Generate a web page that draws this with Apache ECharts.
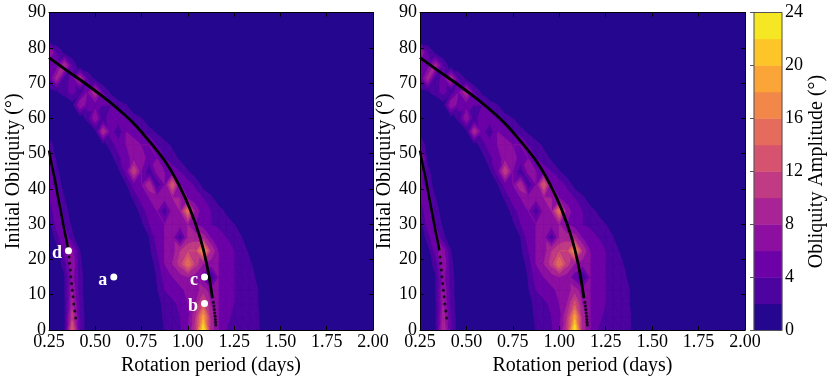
<!DOCTYPE html>
<html>
<head>
<meta charset="utf-8">
<script src="https://cdn.jsdelivr.net/npm/echarts@6/dist/echarts.min.js"></script>
<style>
  html, body { margin: 0; padding: 0; background: #fff; }
  #chart { width: 830px; height: 379px; }
</style>
</head>
<body>
<div id="chart"></div>
<script>
// grid nodes: rotation period in hours (shown in days) and initial obliquity in degrees
var periodHours = [6,7,8,9,10,11,12,13,14,15,16,17,18,19,20,21,22,23,24,25,26,27,28,29,30,31,32,33,34,35,36,37,38,39,40,41,42,43,44,45,46,47,48];
var obliquity = [0,3.75,7.5,11.25,15,18.75,22.5,26.25,30,33.75,37.5,41.25,45,48.75,52.5,56.25,60,63.75,67.5,71.25,75,78.75,82.5,86.25,90];

// obliquity amplitude (deg), one row per obliquity value, columns = periodHours
var ampLeft = [
  [0,0,1.5,14,4,0.5, 0,0,0,0,0,0, 0,0,0.5,2.2,3,3.8, 5.5,11,24,9,6,4, 3.5,3,3,2.5,0.5,0, 0,0,0,0,0,0, 0,0,0,0,0,0,0],
  [0,0,1.5,11,4,0.5, 0,0,0,0,0,0, 0,0,0.8,2.5,3.2,4, 5.5,10,19,9,6,4.5, 3.5,3,3,2.5,0.5,0, 0,0,0,0,0,0, 0,0,0,0,0,0,0],
  [0,0,1.5,9,3.5,0.5, 0,0,0,0,0,0, 0,0,1,2.8,3.5,4.5, 6,8,13,8,6,5, 4,3,2.8,2.2,0.5,0, 0,0,0,0,0,0, 0,0,0,0,0,0,0],
  [0,0,1.8,8,3,0.5, 0,0,0,0,0,0, 0,0,1.8,4,5,5.5, 6.5,7,9,7,6,5, 4,3.5,3,2.2,0.5,0, 0,0,0,0,0,0, 0,0,0,0,0,0,0],
  [0,0,1.8,7,3,0.5, 0,0,0,0,0,0, 0,0.5,2.2,5,6,7, 8,7,5,1.5,6,5, 4,3.5,3,1.5,0,0, 0,0,0,0,0,0, 0,0,0,0,0,0,0],
  [0,0.5,3,8,2.5,0.5, 0,0,0,0,0,0, 0,0.5,3,6,8,11, 16,11,8,7,6,5, 4,3.5,2.5,0.5,0,0, 0,0,0,0,0,0, 0,0,0,0,0,0,0],
  [0,1,5,7,2,0, 0,0,0,0,0,0, 0,1.5,4,6,7,10, 12,12,19,10,6,5, 4,3,1.5,0,0,0, 0,0,0,0,0,0, 0,0,0,0,0,0,0],
  [0,3,6,2.5,0.5,0, 0,0,0,0,0,0, 0.5,2,5,6,7,2.5, 8,9,9,6,5,4, 3,2,0.5,0,0,0, 0,0,0,0,0,0, 0,0,0,0,0,0,0],
  [1,5,4,1.5,0,0, 0,0,0,0,0,0, 1.5,4,5,6,7,7, 8,6,5,4,3.5,3, 2,0.5,0,0,0,0, 0,0,0,0,0,0, 0,0,0,0,0,0,0],
  [2.2,6,2.8,1,0,0, 0,0,0,0,0,0.5, 3,5,6,2.5,7,8, 16,7,5,4,3,1.5, 0,0,0,0,0,0, 0,0,0,0,0,0, 0,0,0,0,0,0,0],
  [4,5,2,0,0,0, 0,0,0,0,0.5,2.5, 5,6,7,7,8,8, 6,5,4,2.5,0.5,0, 0,0,0,0,0,0, 0,0,0,0,0,0, 0,0,0,0,0,0,0],
  [5,3,1.2,0,0,0, 0,0,0,0,1.8,5, 6,10,2.5,6,14,6, 5,3.5,1,0,0,0, 0,0,0,0,0,0, 0,0,0,0,0,0, 0,0,0,0,0,0,0],
  [5,2.5,0.5,0,0,0, 0,0,0,1.5,5,12, 6,2.5,7,6,5,4, 2.2,0.5,0,0,0,0, 0,0,0,0,0,0, 0,0,0,0,0,0, 0,0,0,0,0,0,0],
  [6,1.5,0,0,0,0, 0,0,1,3.5,5,7, 7,5,6,4,3,1.5, 0,0,0,0,0,0, 0,0,0,0,0,0, 0,0,0,0,0,0, 0,0,0,0,0,0,0],
  [3,1,0,0,0,0, 0,1,3,5,6,7, 6,6,4,3,1.5,0, 0,0,0,0,0,0, 0,0,0,0,0,0, 0,0,0,0,0,0, 0,0,0,0,0,0,0],
  [1,0,0,0,0,0, 1.5,10,5,2.5,6,5, 4,3,1.5,0,0,0, 0,0,0,0,0,0, 0,0,0,0,0,0, 0,0,0,0,0,0, 0,0,0,0,0,0,0],
  [0,0,0,0,0.5,2.8, 8,2.5,6,5,4,3, 2.1,0,0,0,0,0, 0,0,0,0,0,0, 0,0,0,0,0,0, 0,0,0,0,0,0, 0,0,0,0,0,0,0],
  [0,0,0,1,8,5, 5,4,4,3,2.1,0, 0,0,0,0,0,0, 0,0,0,0,0,0, 0,0,0,0,0,0, 0,0,0,0,0,0, 0,0,0,0,0,0,0],
  [1.3,1.8,3,5,2.5,6, 10,4,1.5,0,0,0, 0,0,0,0,0,0, 0,0,0,0,0,0, 0,0,0,0,0,0, 0,0,0,0,0,0, 0,0,0,0,0,0,0],
  [4,9,2.5,5,10,4, 1.5,0,0,0,0,0, 0,0,0,0,0,0, 0,0,0,0,0,0, 0,0,0,0,0,0, 0,0,0,0,0,0, 0,0,0,0,0,0,0],
  [4,5,10,4,0.5,0, 0,0,0,0,0,0, 0,0,0,0,0,0, 0,0,0,0,0,0, 0,0,0,0,0,0, 0,0,0,0,0,0, 0,0,0,0,0,0,0],
  [9,4,1.5,0,0,0, 0,0,0,0,0,0, 0,0,0,0,0,0, 0,0,0,0,0,0, 0,0,0,0,0,0, 0,0,0,0,0,0, 0,0,0,0,0,0,0],
  [0,0,0,0,0,0, 0,0,0,0,0,0, 0,0,0,0,0,0, 0,0,0,0,0,0, 0,0,0,0,0,0, 0,0,0,0,0,0, 0,0,0,0,0,0,0],
  [0,0,0,0,0,0, 0,0,0,0,0,0, 0,0,0,0,0,0, 0,0,0,0,0,0, 0,0,0,0,0,0, 0,0,0,0,0,0, 0,0,0,0,0,0,0],
  [0,0,0,0,0,0, 0,0,0,0,0,0, 0,0,0,0,0,0, 0,0,0,0,0,0, 0,0,0,0,0,0, 0,0,0,0,0,0, 0,0,0,0,0,0,0]
];

var ampRight = [
  [0,0,1.5,10,4,0.5, 0,0,0,0,0,0, 0,0,0.5,2.2,3,3.8, 5.5,11,24,9,6,4, 3.5,3,3,2.5,0.5,0, 0,0,0,0,0,0, 0,0,0,0,0,0,0],
  [0,0,1.5,9,4,0.5, 0,0,0,0,0,0, 0,0,0.8,2.5,3.2,4, 5.5,10,19,9,6,4.5, 3.5,3,3,2.5,0.5,0, 0,0,0,0,0,0, 0,0,0,0,0,0,0],
  [0,0,1.5,8,3.5,0.5, 0,0,0,0,0,0, 0,0,1,2.8,3.5,4.5, 6,8,13,8,6,5, 4,3,2.8,2.2,0.5,0, 0,0,0,0,0,0, 0,0,0,0,0,0,0],
  [0,0,1.8,8,3,0.5, 0,0,0,0,0,0, 0,0,1.8,4,5,5.5, 6.5,7,9,7,6,5, 4,3.5,3,2.2,0.5,0, 0,0,0,0,0,0, 0,0,0,0,0,0,0],
  [0,0,1.8,7,3,0.5, 0,0,0,0,0,0, 0,0.5,2.2,5,6,7, 8,7,5,1.5,6,5, 4,3.5,3,1.5,0,0, 0,0,0,0,0,0, 0,0,0,0,0,0,0],
  [0,0.5,3,8,2.5,0.5, 0,0,0,0,0,0, 0,0.5,3,6,8,11, 16,11,8,7,6,5, 4,3.5,2.5,0.5,0,0, 0,0,0,0,0,0, 0,0,0,0,0,0,0],
  [0,1,5,7,2,0, 0,0,0,0,0,0, 0,1.5,4,6,7,10, 12,12,19,10,6,5, 4,3,1.5,0,0,0, 0,0,0,0,0,0, 0,0,0,0,0,0,0],
  [0,3,6,2.5,0.5,0, 0,0,0,0,0,0, 0.5,2,5,6,7,2.5, 8,9,9,6,5,4, 3,2,0.5,0,0,0, 0,0,0,0,0,0, 0,0,0,0,0,0,0],
  [1,5,4,1.5,0,0, 0,0,0,0,0,0, 1.5,4,5,6,7,7, 8,6,5,4,3.5,3, 2,0.5,0,0,0,0, 0,0,0,0,0,0, 0,0,0,0,0,0,0],
  [2.2,6,2.8,1,0,0, 0,0,0,0,0,0.5, 3,5,6,2.5,7,8, 16,7,5,4,3,1.5, 0,0,0,0,0,0, 0,0,0,0,0,0, 0,0,0,0,0,0,0],
  [4,5,2,0,0,0, 0,0,0,0,0.5,2.5, 5,6,7,7,8,8, 6,5,4,2.5,0.5,0, 0,0,0,0,0,0, 0,0,0,0,0,0, 0,0,0,0,0,0,0],
  [5,3,1.2,0,0,0, 0,0,0,0,1.8,5, 6,10,2.5,6,14,6, 5,3.5,1,0,0,0, 0,0,0,0,0,0, 0,0,0,0,0,0, 0,0,0,0,0,0,0],
  [6,2.5,0.5,0,0,0, 0,0,0,1.5,5,12, 6,2.5,7,6,5,4, 2.2,0.5,0,0,0,0, 0,0,0,0,0,0, 0,0,0,0,0,0, 0,0,0,0,0,0,0],
  [10,1.5,0,0,0,0, 0,0,1,3.5,5,7, 7,5,6,4,3,1.5, 0,0,0,0,0,0, 0,0,0,0,0,0, 0,0,0,0,0,0, 0,0,0,0,0,0,0],
  [4,1,0,0,0,0, 0,1,3,5,6,7, 6,6,4,3,1.5,0, 0,0,0,0,0,0, 0,0,0,0,0,0, 0,0,0,0,0,0, 0,0,0,0,0,0,0],
  [1,0,0,0,0,0, 1.5,10,5,2.5,6,5, 4,3,1.5,0,0,0, 0,0,0,0,0,0, 0,0,0,0,0,0, 0,0,0,0,0,0, 0,0,0,0,0,0,0],
  [0,0,0,0,0.5,2.8, 8,2.5,6,5,4,3, 2.1,0,0,0,0,0, 0,0,0,0,0,0, 0,0,0,0,0,0, 0,0,0,0,0,0, 0,0,0,0,0,0,0],
  [0,0,0,1,8,5, 5,4,4,3,2.1,0, 0,0,0,0,0,0, 0,0,0,0,0,0, 0,0,0,0,0,0, 0,0,0,0,0,0, 0,0,0,0,0,0,0],
  [1.3,1.8,3,5,2.5,6, 10,4,1.5,0,0,0, 0,0,0,0,0,0, 0,0,0,0,0,0, 0,0,0,0,0,0, 0,0,0,0,0,0, 0,0,0,0,0,0,0],
  [4,9,2.5,5,10,4, 1.5,0,0,0,0,0, 0,0,0,0,0,0, 0,0,0,0,0,0, 0,0,0,0,0,0, 0,0,0,0,0,0, 0,0,0,0,0,0,0],
  [4,5,9,4,0.5,0, 0,0,0,0,0,0, 0,0,0,0,0,0, 0,0,0,0,0,0, 0,0,0,0,0,0, 0,0,0,0,0,0, 0,0,0,0,0,0,0],
  [9,4,1.5,0,0,0, 0,0,0,0,0,0, 0,0,0,0,0,0, 0,0,0,0,0,0, 0,0,0,0,0,0, 0,0,0,0,0,0, 0,0,0,0,0,0,0],
  [0,0,0,0,0,0, 0,0,0,0,0,0, 0,0,0,0,0,0, 0,0,0,0,0,0, 0,0,0,0,0,0, 0,0,0,0,0,0, 0,0,0,0,0,0,0],
  [0,0,0,0,0,0, 0,0,0,0,0,0, 0,0,0,0,0,0, 0,0,0,0,0,0, 0,0,0,0,0,0, 0,0,0,0,0,0, 0,0,0,0,0,0,0],
  [0,0,0,0,0,0, 0,0,0,0,0,0, 0,0,0,0,0,0, 0,0,0,0,0,0, 0,0,0,0,0,0, 0,0,0,0,0,0, 0,0,0,0,0,0,0]
];

// resonance curves (solid part, then the dotted tail)
var upperCurveX = [0.25, 0.345, 0.435, 0.525, 0.615, 0.705, 0.795, 0.885, 0.957, 1.011, 1.065, 1.101, 1.133];
var upperCurveY = [77.2, 73.6, 70.3, 66.8, 63.0, 58.7, 53.3, 47.2, 40.6, 34.4, 26.4, 18.9, 9.0];
var upperDotsX = [1.138, 1.141, 1.143, 1.145, 1.147, 1.149, 1.150, 1.151];
var upperDotsY = [7.9, 6.8, 5.8, 4.8, 3.9, 3.0, 2.2, 1.4];
var lowerCurveX = [0.25, 0.266, 0.282, 0.296, 0.309, 0.323, 0.336, 0.346, 0.354];
var lowerCurveY = [50.9, 46.5, 42.5, 38.5, 34.9, 31.0, 27.4, 25.0, 22.6];
var lowerDotsX = [0.358, 0.361, 0.365, 0.368, 0.372, 0.376, 0.380, 0.384, 0.389, 0.394];
var lowerDotsY = [20.7, 18.9, 17.0, 15.1, 13.2, 11.3, 9.4, 7.4, 5.4, 3.4];

// marked cases (left panel)
var caseNames = ['a', 'b', 'c', 'd'];
var caseX = [0.6, 1.09, 1.09, 0.355];
var caseY = [15, 7.5, 15, 22.5];

// contour levels and plasma colours of the filled bands
var levels = [0,2,4,6,8,10,12,14,16,18,20,22,24];
var bandColors = ['#24068f','#4c03a0','#6c01a7','#8c0fa2','#a82395','#c03b83','#d5536e','#e56c5c','#f2874a','#fba437','#fdc528','#f5e723'];

var serif = "'Liberation Serif', 'DejaVu Serif', serif";

function bandIndex(v) {
  for (var k = levels.length - 2; k >= 0; k--) {
    if (v >= levels[k]) return k;
  }
  return 0;
}

function buildCells(rows) {
  var cells = [];
  for (var j = 0; j < obliquity.length - 1; j++) {
    for (var i = 0; i < periodHours.length - 1; i++) {
      var v00 = rows[j][i], v10 = rows[j][i + 1], v01 = rows[j + 1][i], v11 = rows[j + 1][i + 1];
      if (Math.max(v00, v10, v01, v11) < levels[1]) continue;
      cells.push([periodHours[i] / 24, obliquity[j], periodHours[i + 1] / 24, obliquity[j + 1], v00, v10, v01, v11]);
    }
  }
  return cells;
}

// keep the part of a polygon above (or below) a level, values linear along edges
function clipPoly(pts, level, above) {
  var out = [];
  for (var i = 0; i < pts.length; i++) {
    var a = pts[i], b = pts[(i + 1) % pts.length];
    var ina = above ? a[2] >= level : a[2] < level;
    var inb = above ? b[2] >= level : b[2] < level;
    if (ina) out.push(a);
    if (ina !== inb) {
      var t = (level - a[2]) / (b[2] - a[2]);
      out.push([a[0] + t * (b[0] - a[0]), a[1] + t * (b[1] - a[1]), level]);
    }
  }
  return out;
}

function renderContourCell(params, api) {
  var p0 = api.coord([api.value(0), api.value(1)]);
  var p1 = api.coord([api.value(2), api.value(3)]);
  var v00 = api.value(4), v10 = api.value(5), v01 = api.value(6), v11 = api.value(7);
  var a = [p0[0], p0[1], v00], b = [p1[0], p0[1], v10], c = [p1[0], p1[1], v11], d = [p0[0], p1[1], v01];
  // split the cell along the diagonal that avoids its most extreme corner
  var mean = (v00 + v10 + v01 + v11) / 4;
  var devAC = Math.max(Math.abs(v00 - mean), Math.abs(v11 - mean));
  var devBD = Math.max(Math.abs(v10 - mean), Math.abs(v01 - mean));
  var tris = devAC >= devBD ? [[a, b, d], [b, c, d]] : [[a, b, c], [a, c, d]];
  var children = [];
  tris.forEach(function (tri) {
    var lo = Math.min(tri[0][2], tri[1][2], tri[2][2]);
    var hi = Math.max(tri[0][2], tri[1][2], tri[2][2]);
    for (var k = Math.max(1, bandIndex(lo)); k <= bandIndex(hi); k++) {
      var poly = clipPoly(tri, levels[k], true);
      if (k < levels.length - 2) poly = clipPoly(poly, levels[k + 1], false);
      if (poly.length < 3) continue;
      children.push({
        type: 'polygon',
        shape: { points: poly.map(function (p) { return [p[0], p[1]]; }) },
        style: { fill: bandColors[k], stroke: bandColors[k], lineWidth: 0.6 }
      });
    }
  });
  return { type: 'group', children: children };
}

function zip(xs, ys) {
  return xs.map(function (x, i) { return [x, ys[i]]; });
}

function periodAxis(gridIndex, position, withLabels) {
  return {
    type: 'value', gridIndex: gridIndex, position: position,
    min: 0.25, max: 2.0, interval: 0.25, z: 5,
    axisLine: { show: true, onZero: false, lineStyle: { color: '#000', width: 1 } },
    axisTick: { show: true, inside: true, length: 4, lineStyle: { color: '#000' } },
    axisLabel: {
      show: withLabels, color: '#000', fontFamily: serif, fontSize: 18, margin: 3,
      showMinLabel: true, showMaxLabel: true,
      formatter: function (v) { return v.toFixed(2); }
    },
    splitLine: { show: false },
    name: withLabels ? 'Rotation period (days)' : '',
    nameLocation: 'middle', nameGap: 11,
    nameTextStyle: { color: '#000', fontFamily: serif, fontSize: 20 }
  };
}

function obliquityAxis(gridIndex, position, withLabels) {
  return {
    type: 'value', gridIndex: gridIndex, position: position,
    min: 0, max: 90, interval: 10, z: 5,
    axisLine: { show: true, onZero: false, lineStyle: { color: '#000', width: 1 } },
    axisTick: { show: true, inside: true, length: 4, lineStyle: { color: '#000' } },
    axisLabel: {
      show: withLabels, color: '#000', fontFamily: serif, fontSize: 18, margin: 3,
      showMinLabel: true, showMaxLabel: true
    },
    splitLine: { show: false },
    name: withLabels ? 'Initial Obliquity (°)' : '',
    nameLocation: 'middle', nameGap: 24, nameRotate: 90,
    nameTextStyle: { color: '#000', fontFamily: serif, fontSize: 20 }
  };
}

function panelSeries(rows, xi, yi) {
  return [
    {
      type: 'custom', xAxisIndex: xi, yAxisIndex: yi, clip: true, silent: true,
      renderItem: renderContourCell,
      encode: { x: [0, 2], y: [1, 3] },
      data: buildCells(rows), z: 1
    },
    {
      type: 'line', xAxisIndex: xi, yAxisIndex: yi, data: zip(upperCurveX, upperCurveY),
      smooth: 0.4, showSymbol: false, symbol: 'none', silent: true, z: 3,
      lineStyle: { color: '#000', width: 2.8 }
    },
    {
      type: 'line', xAxisIndex: xi, yAxisIndex: yi, data: zip(lowerCurveX, lowerCurveY),
      smooth: 0.4, showSymbol: false, symbol: 'none', silent: true, z: 3,
      lineStyle: { color: '#000', width: 2.5 }
    },
    {
      type: 'scatter', xAxisIndex: xi, yAxisIndex: yi, silent: true, z: 3,
      data: zip(upperDotsX, upperDotsY).concat(zip(lowerDotsX, lowerDotsY)),
      symbol: 'circle', symbolSize: 3, itemStyle: { color: '#000' }
    }
  ];
}

var chart = echarts.init(document.getElementById('chart'), null, { renderer: 'canvas' });

var series = panelSeries(ampLeft, 0, 0).concat(panelSeries(ampRight, 2, 2));

series.push({
  type: 'scatter', xAxisIndex: 0, yAxisIndex: 0, silent: true, z: 4,
  data: caseNames.map(function (n, i) { return { name: n, value: [caseX[i], caseY[i]] }; }),
  symbol: 'circle', symbolSize: 7, itemStyle: { color: '#fff', opacity: 1 },
  label: {
    show: true, position: 'left', distance: 3, offset: [0, 3], formatter: '{b}',
    color: '#fff', fontFamily: serif, fontWeight: 'bold', fontSize: 18
  }
});

// colour bar
series.push({
  type: 'custom', xAxisIndex: 4, yAxisIndex: 4, silent: true,
  data: levels.slice(0, -1).map(function (lo, k) { return [0, lo, 1, levels[k + 1], k]; }),
  encode: { x: [0, 2], y: [1, 3] },
  renderItem: function (params, api) {
    var p0 = api.coord([api.value(0), api.value(1)]);
    var p1 = api.coord([api.value(2), api.value(3)]);
    var kids = [{
      type: 'rect',
      shape: { x: p0[0], y: p1[1], width: p1[0] - p0[0], height: p0[1] - p1[1] },
      style: { fill: bandColors[api.value(4)], stroke: bandColors[api.value(4)], lineWidth: 0.5 }
    }];
    if (params.dataIndex === levels.length - 2) {
      var q0 = api.coord([0, levels[0]]);
      var q1 = api.coord([1, levels[levels.length - 1]]);
      kids.push({
        type: 'rect', z2: 10,
        shape: { x: q0[0], y: q1[1], width: q1[0] - q0[0], height: q0[1] - q1[1] },
        style: { fill: null, stroke: '#555', lineWidth: 1 }
      });
    }
    return { type: 'group', children: kids };
  }
});

chart.setOption({
  animation: false,
  backgroundColor: '#fff',
  grid: [
    { left: 49, top: 12.5, width: 324, height: 317.5, show: true, backgroundColor: bandColors[0], borderWidth: 0, containLabel: false, outerBoundsMode: 'none' },
    { left: 420, top: 12.5, width: 325, height: 317.5, show: true, backgroundColor: bandColors[0], borderWidth: 0, containLabel: false, outerBoundsMode: 'none' },
    { left: 754, top: 12.5, width: 28, height: 318, show: false, containLabel: false, outerBoundsMode: 'none' }
  ],
  xAxis: [
    periodAxis(0, 'bottom', true),
    periodAxis(0, 'top', false),
    periodAxis(1, 'bottom', true),
    periodAxis(1, 'top', false),
    { type: 'value', gridIndex: 2, min: 0, max: 1, show: false }
  ],
  yAxis: [
    obliquityAxis(0, 'left', true),
    obliquityAxis(0, 'right', false),
    obliquityAxis(1, 'left', true),
    obliquityAxis(1, 'right', false),
    {
      type: 'value', gridIndex: 2, position: 'right', min: 0, max: 24, interval: 4, z: 5,
      axisLine: { show: false },
      axisTick: { show: true, inside: true, length: 4, lineStyle: { color: '#555' } },
      axisLabel: { color: '#000', fontFamily: serif, fontSize: 18, margin: 3, showMinLabel: true, showMaxLabel: true },
      splitLine: { show: false },
      name: 'Obliquity Amplitude (°)', nameLocation: 'middle', nameGap: 24, nameRotate: 90,
      nameTextStyle: { color: '#000', fontFamily: serif, fontSize: 20 }
    }
  ],
  series: series
});
</script>
</body>
</html>
